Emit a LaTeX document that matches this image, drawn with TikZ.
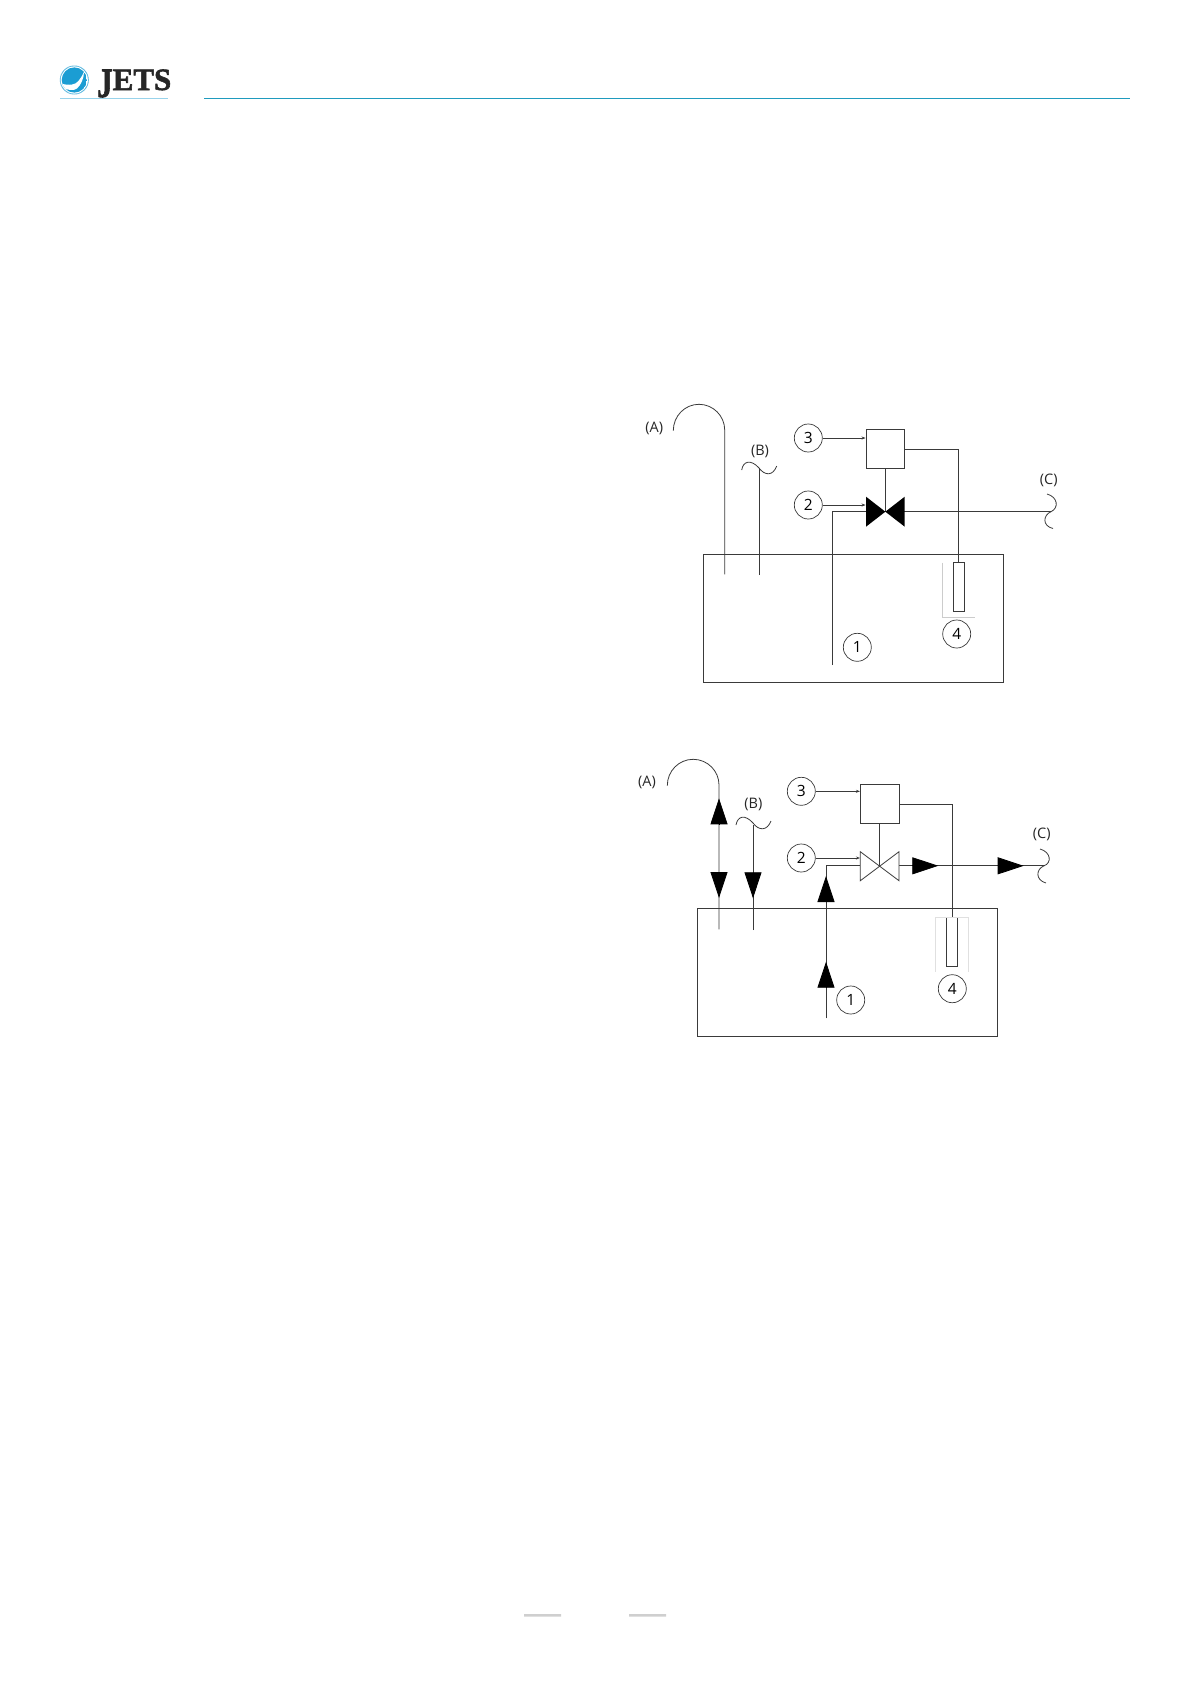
\documentclass[tikz,border=0pt]{standalone}
\usepackage{fontspec}
\setmainfont{Open Sans}
\newfontfamily\logofont{Liberation Serif}[BoldFeatures={FakeBold=1.8}]
\usetikzlibrary{arrows.meta}
\definecolor{jetsblue}{HTML}{1B9DD3}
\definecolor{jetsteal}{HTML}{1F9BBE}
\definecolor{rulegray}{HTML}{CFCFCF}
\definecolor{pipegray}{HTML}{3A3A3A}
\tikzset{
	pipe/.style={draw=pipegray, line width=0.8pt},
	signal/.style={pipe, -{Stealth[length=4pt,width=3pt]}},
	flow/.style={pipe, -{Triangle[length=26pt,width=17pt]}, black},
	tank/.style={draw=pipegray, line width=0.8pt, minimum width=300pt, minimum height=128.2pt, inner sep=0pt},
	ctrlbox/.style={draw=pipegray, line width=0.8pt, minimum size=38.7pt, inner sep=0pt},
	sensor/.style={draw=pipegray, line width=0.8pt, minimum width=10.7pt, minimum height=49pt, inner sep=0pt},
	callout/.style={draw=pipegray, circle, line width=0.7pt, minimum size=28pt, inner sep=0pt, font=\fontsize{15.5}{18}\selectfont, text=black},
	tag/.style={inner sep=0pt, font=\fontsize{14.5}{17}\selectfont, text=black!85},
	guard/.style={draw=black!20, line width=0.4pt}
}
\begin{document}
\begin{tikzpicture}[x=1pt, y=-1pt, line cap=butt, line join=miter]
	\useasboundingbox (0,0) rectangle (1190,1684);
	% header
	\fill[jetsblue!70] (74.3,80) circle(14.5);
	\fill[white] (74.3,80) circle(13.6);
	\begin{scope}
		\clip (74.3,80) circle(12.6);
		\fill[jetsblue] (74.3,80) circle(12.6);
		\fill[white] (84,72) .. controls (80,80) and (77,84) .. (72,84.5) .. controls (69,85) and (65,85) .. (60,83) -- (61,88) .. controls (68,90) and (74,91) .. (77,88.5) .. controls (81,85) and (84,78) .. (84,72) -- cycle;
	\end{scope}
	\node[inner sep=0pt, anchor=base west, text=black!85, font=\logofont\bfseries\fontsize{31}{30}\selectfont] (jets) at (97,90) {\raisebox{-7pt}{\scalebox{1}[1.35]{J}}ETS};
	\draw[jetsblue!45, line width=0.5pt] (60,98.5) -- (168,98.5);
	\draw[jetsteal, line width=1pt] (204,98.6) -- (1130,98.6);
	\fill[rulegray] (524,1614) rectangle (561,1616.6) (629,1614) rectangle (666,1616.6);

	% upper plant
	\node[tank] (tankA) at (853.3,618.2) {};
	\node[ctrlbox] (ctrlA) at (885.3,449) {};
	\node[sensor] (sensorA) at (958.6,586.8) {};
	\coordinate (valveA) at (885.3,511.7);
	\node[callout] (oneA) at (857.3,647.3) {1};
	\node[callout] (twoA) at (808.3,505) {2};
	\node[callout] (threeA) at (808.3,438) {3};
	\node[callout] (fourA) at (956.7,634) {4};
	\node[tag] (labA) at (654.3,428.3) {(A)};
	\node[tag] (labB) at (760,451) {(B)};
	\node[tag] (labC) at (1048.7,480) {(C)};
	\coordinate (endA) at (724.7,574.3);
	\coordinate (endB) at (759,575);
	\coordinate (endOne) at (832,665);
	\coordinate (endC) at (1051,511.7);
	\draw[pipe] (endA) -- (724.7,430) .. controls (724.7,415.9) and (713.1,404.3) .. (699,404.3) .. controls (684.9,404.3) and (673.3,415.9) .. (673.3,430.7);
	\draw[pipe] (endB) -- (759,468);
	\draw[pipe] (741.7,470) .. controls (743,461) and (751,459) .. (759,468) .. controls (765,476) and (773,476) .. (776.7,466);
	\draw[pipe] (endOne) -- (832,511.7) -- (valveA);
	\draw[pipe] (valveA) -- (endC);
	\draw[pipe] (1047,494) .. controls (1058,497) and (1059,508) .. (1051,511.7) .. controls (1043,515) and (1042,526) .. (1053,528.5);
	\draw[pipe] (ctrlA) -- (valveA);
	\draw[pipe] (ctrlA.east) -| (sensorA.north);
	\fill[black] (866,496.7) -- (904.7,526.7) -- (904.7,496.7) -- (866,526.7) -- cycle;
	\draw[signal] (threeA) -- (threeA -| ctrlA.west);
	\draw[signal] (twoA) -- (twoA -| ctrlA.west);
	\draw[guard] (941.7,562.7) -- (941.7,617.3) -- (975,617.3);

	% lower plant
	\node[tank] (tankB) at (847.5,972.5) {};
	\node[ctrlbox] (ctrlB) at (879.7,804) {};
	\node[sensor] (sensorB) at (952,942.3) {};
	\coordinate (valveB) at (879.7,865.8);
	\node[callout] (oneB) at (850.7,1000) {1};
	\node[callout] (twoB) at (801.3,858) {2};
	\node[callout] (threeB) at (801.3,791.3) {3};
	\node[callout] (fourB) at (952.3,988.7) {4};
	\node[tag] (labD) at (647,782.7) {(A)};
	\node[tag] (labE) at (753.3,804.3) {(B)};
	\node[tag] (labF) at (1041.7,834.3) {(C)};
	\coordinate (endD) at (719,929.3);
	\coordinate (endE) at (753,930);
	\coordinate (endTwo) at (826,1018.3);
	\coordinate (endF) at (1044,865.8);
	\draw[pipe] (endD) -- (719,785) .. controls (719,770.8) and (707.4,759.3) .. (693.2,759.3) .. controls (679,759.3) and (667.3,770.8) .. (667.3,785.7);
	\draw[pipe] (endE) -- (753,825);
	\draw[pipe] (736,825) .. controls (737.5,816) and (745,814) .. (753,823) .. controls (759,831) and (767,831) .. (771,821);
	\draw[pipe] (endTwo) -- (826,865.8) -- (860.3,865.8);
	\draw[pipe] (899,865.8) -- (endF);
	\draw[pipe] (1040,849) .. controls (1051,852) and (1052,863) .. (1044,865.8) .. controls (1036,869) and (1035,880) .. (1046,883);
	\draw[pipe] (ctrlB) -- (valveB);
	\draw[pipe] (ctrlB.east) -| (sensorB.north);
	\draw[pipe, fill=white] (860.3,851.7) -- (899,880.7) -- (899,851.7) -- (860.3,880.7) -- cycle;
	\draw[signal] (threeB) -- (threeB -| ctrlB.west);
	\draw[signal] (twoB) -- (twoB -| ctrlB.west);
	\draw[flow] (719,824.3) -- (719,798.3);
	\draw[flow] (719,873) -- (719,898);
	\draw[flow] (753,873) -- (753,898.3);
	\draw[flow] (826,901) -- (826,876);
	\draw[flow] (826,986.7) -- (826,961.7);
	\draw[flow] (912.3,865.8) -- (938.3,865.8);
	\draw[flow] (997.7,865.8) -- (1023.7,865.8);
	\draw[guard, draw=black!12] (934.7,971.7) -- (934.7,917.3) -- (968.3,917.3) -- (968.3,971.7);
\end{tikzpicture}
\end{document}
